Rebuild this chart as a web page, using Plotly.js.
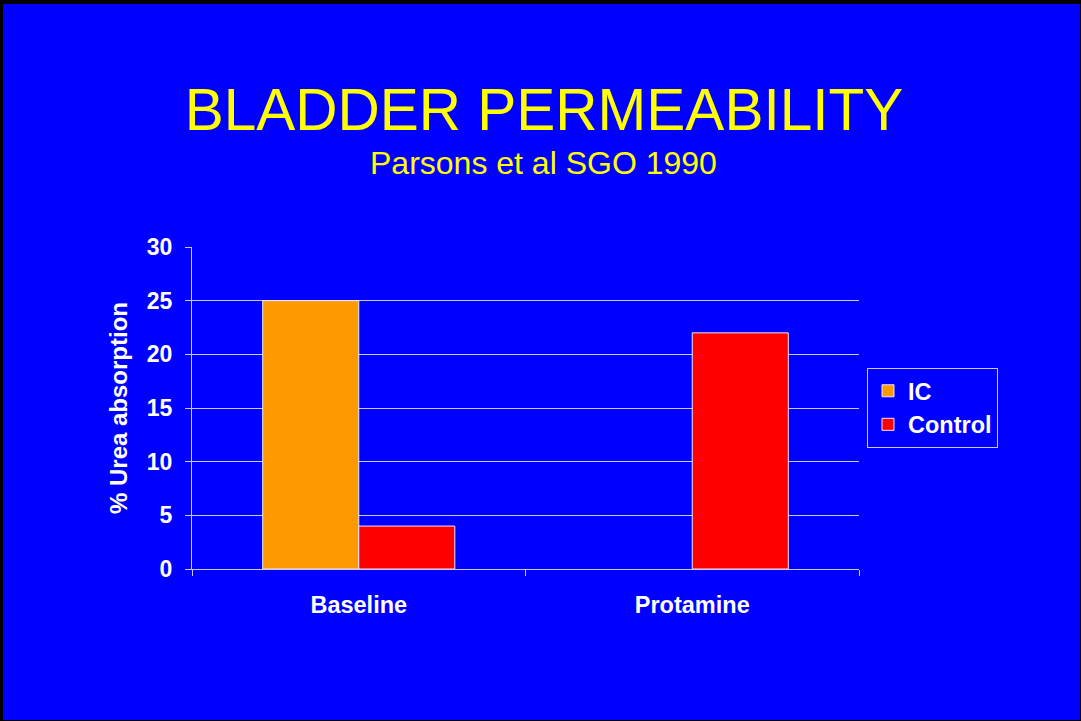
<!DOCTYPE html>
<html>
<head>
<meta charset="utf-8">
<script src="https://cdn.plot.ly/plotly-3.0.1.min.js"></script>
<style>
  html, body { margin: 0; padding: 0; background: #000000; width: 1081px; height: 721px; overflow: hidden; }
  #chart { position: absolute; left: 3px; top: 4px; width: 1077px; height: 716px; }
</style>
</head>
<body>
<div id="chart"></div>
<script>
const categories = ['Baseline', 'Protamine'];
const seriesNames = ['IC', 'Control'];
const icValues = [25, null];
const controlValues = [4, 22];
const yTickValues = [0, 5, 10, 15, 20, 25, 30];

const FONT = 'Liberation Sans, Arial, sans-serif';
const LINE = '#C8C8FF';

const traces = [
  { type: 'bar', name: seriesNames[0], x: categories, y: icValues,
    marker: { color: '#FF9900', line: { color: '#E8E8FF', width: 1 } } },
  { type: 'bar', name: seriesNames[1], x: categories, y: controlValues,
    marker: { color: '#FF0000', line: { color: '#E8E8FF', width: 1 } } }
];

const layout = {
  width: 1077, height: 716,
  paper_bgcolor: '#0000FF', plot_bgcolor: '#0000FF',
  margin: { l: 189, r: 221, t: 243, b: 151 },
  barmode: 'group', bargap: 0.424, bargroupgap: 0,
  title: {
    text: 'BLADDER PERMEABILITY',
    font: { family: FONT, size: 58.5, color: '#FFFF00' },
    xref: 'container', x: 0.5023, xanchor: 'center',
    yref: 'container', y: 0.8527, yanchor: 'middle'
  },
  annotations: [{
    text: 'Parsons et al SGO 1990', showarrow: false,
    xref: 'paper', x: 0.5263, xanchor: 'center',
    yref: 'paper', y: 1.262, yanchor: 'middle',
    font: { family: FONT, size: 32, color: '#FFFF00' }
  }],
  xaxis: {
    type: 'category',
    showline: true, linecolor: LINE, linewidth: 1,
    ticks: 'outside', tickson: 'boundaries', ticklen: 6, tickcolor: LINE,
    tickfont: { family: FONT, size: 23.5, color: '#FFFFFF', weight: 'bold' },
    ticklabelstandoff: 15,
    showgrid: false
  },
  yaxis: {
    range: [0, 30], tickvals: yTickValues,
    showline: true, linecolor: LINE, linewidth: 1,
    ticks: 'outside', ticklen: 6, tickcolor: LINE,
    tickfont: { family: FONT, size: 23, color: '#FFFFFF', weight: 'bold' },
    ticklabelstandoff: 8,
    showgrid: true, gridcolor: LINE, gridwidth: 1,
    zeroline: false,
    title: { text: '% Urea absorption', standoff: 12,
      font: { family: FONT, size: 24, color: '#FFFFFF', weight: 'bold' } }
  },
  showlegend: true,
  legend: {
    x: 1.012, xanchor: 'left', y: 0.5, yanchor: 'middle',
    bgcolor: '#0000FF', bordercolor: LINE, borderwidth: 1,
    font: { family: FONT, size: 23.5, color: '#FFFFFF', weight: 'bold' },
    traceorder: 'normal'
  }
};

Plotly.newPlot('chart', traces, layout, { displayModeBar: false, staticPlot: true });
</script>
</body>
</html>
